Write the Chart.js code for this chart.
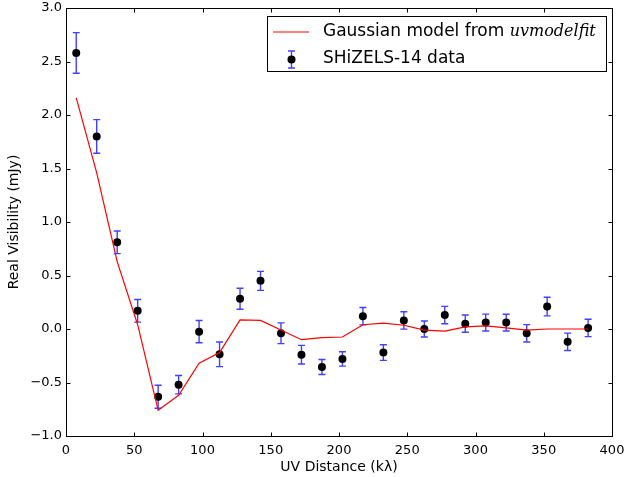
<!DOCTYPE html>
<html>
<head>
<meta charset="utf-8">
<script src="https://cdn.jsdelivr.net/npm/chart.js@4"></script>
<style>
  html, body { margin: 0; padding: 0; background: #fff; }
  #wrap { width: 629px; height: 477px; }
</style>
</head>
<body>
<div id="wrap"><canvas id="c" width="629" height="477"></canvas></div>
<script>
// UV distance of each binned visibility (kλ)
const uvDist = [7.5, 22.5, 37.5, 52.5, 67.5, 82.5, 97.5, 112.5, 127.5, 142.5, 157.5, 172.5, 187.5,
                202.5, 217.5, 232.5, 247.5, 262.5, 277.5, 292.5, 307.5, 322.5, 337.5, 352.5, 367.5, 382.5];
// Measured real part of the visibilities (mJy)
const visReal = [2.58, 1.80, 0.81, 0.17, -0.633, -0.52, -0.025, -0.237, 0.283, 0.45, -0.04, -0.24, -0.355,
                 -0.28, 0.12, -0.22, 0.08, 0.00, 0.13, 0.05, 0.06, 0.06, -0.04, 0.21, -0.12, 0.01];
// 1-sigma uncertainties (mJy)
const visErr = [0.19, 0.157, 0.106, 0.106, 0.107, 0.086, 0.104, 0.115, 0.098, 0.089, 0.097, 0.087, 0.07,
                0.067, 0.081, 0.073, 0.081, 0.075, 0.081, 0.081, 0.079, 0.078, 0.081, 0.087, 0.081, 0.081];
// Gaussian model evaluated at the same UV distances (mJy)
const modelReal = [2.16, 1.46, 0.63, 0.04, -0.76, -0.62, -0.32, -0.22, 0.085, 0.08, -0.01, -0.10, -0.08,
                   -0.075, 0.04, 0.055, 0.035, -0.01, -0.02, 0.02, 0.03, 0.01, -0.01, 0.0, 0.0, 0.0];
// Axis ticks
const xTicks = [0, 50, 100, 150, 200, 250, 300, 350, 400];
const yTicks = [-1.0, -0.5, 0.0, 0.5, 1.0, 1.5, 2.0, 2.5, 3.0];

const FONT = 'DejaVu Sans';
const MINUS = '\u2212';

function fmtY(v) {
  const s = Math.abs(v).toFixed(1);
  return (v < 0 ? MINUS : '') + s;
}

// Blue error bars with caps, drawn beneath the markers
const errorBars = {
  id: 'errorBars',
  beforeDatasetsDraw(chart) {
    const { ctx, scales: { x, y } } = chart;
    ctx.save();
    ctx.strokeStyle = 'rgba(0,0,255,0.75)';
    ctx.lineWidth = 1.4;
    for (let i = 0; i < uvDist.length; i++) {
      const px = x.getPixelForValue(uvDist[i]);
      const y0 = y.getPixelForValue(visReal[i] - visErr[i]);
      const y1 = y.getPixelForValue(visReal[i] + visErr[i]);
      ctx.beginPath();
      ctx.moveTo(px, y0); ctx.lineTo(px, y1);
      ctx.moveTo(px - 3.5, y0); ctx.lineTo(px + 3.5, y0);
      ctx.moveTo(px - 3.5, y1); ctx.lineTo(px + 3.5, y1);
      ctx.stroke();
    }
    ctx.restore();
  }
};

// Box frame with inward tick marks on all four sides
const frame = {
  id: 'frame',
  afterDraw(chart) {
    const { ctx, chartArea: a, scales: { x, y } } = chart;
    ctx.save();
    ctx.strokeStyle = '#000';
    ctx.lineWidth = 1;
    const L = Math.round(a.left) + 0.5, R = Math.round(a.right) + 0.5;
    const T = Math.round(a.top) + 0.5, B = Math.round(a.bottom) + 0.5;
    ctx.strokeRect(L, T, R - L, B - T);
    const tl = 4;
    ctx.beginPath();
    xTicks.forEach(v => {
      const p = Math.round(x.getPixelForValue(v)) + 0.5;
      ctx.moveTo(p, B); ctx.lineTo(p, B - tl);
      ctx.moveTo(p, T); ctx.lineTo(p, T + tl);
    });
    yTicks.forEach(v => {
      const p = Math.round(y.getPixelForValue(v)) + 0.5;
      ctx.moveTo(L, p); ctx.lineTo(L + tl, p);
      ctx.moveTo(R, p); ctx.lineTo(R - tl, p);
    });
    ctx.stroke();
    ctx.restore();
  }
};

// Legend box in the upper right corner
const legendBox = {
  id: 'legendBox',
  afterDraw(chart) {
    const { ctx } = chart;
    const bx = 267.5, by = 16.5, bw = 339, bh = 55;
    ctx.save();
    ctx.fillStyle = '#fff';
    ctx.fillRect(bx, by, bw, bh);
    ctx.strokeStyle = '#000';
    ctx.lineWidth = 1;
    ctx.strokeRect(bx, by, bw, bh);

    // model line sample
    ctx.strokeStyle = '#ff0000';
    ctx.lineWidth = 1.2;
    ctx.beginPath();
    ctx.moveTo(273, 32); ctx.lineTo(309, 32);
    ctx.stroke();

    // data marker sample
    ctx.strokeStyle = 'rgba(0,0,255,0.75)';
    ctx.lineWidth = 1.4;
    ctx.beginPath();
    ctx.moveTo(291.5, 51); ctx.lineTo(291.5, 68);
    ctx.moveTo(288, 51); ctx.lineTo(295, 51);
    ctx.moveTo(288, 68); ctx.lineTo(295, 68);
    ctx.stroke();
    ctx.fillStyle = '#000';
    ctx.beginPath();
    ctx.arc(291.5, 59.5, 4, 0, Math.PI * 2);
    ctx.fill();

    ctx.fillStyle = '#000';
    ctx.textBaseline = 'middle';
    ctx.textAlign = 'left';
    ctx.font = '17px "' + FONT + '"';
    const t1 = 'Gaussian model from ';
    ctx.fillText(t1, 323, 32);
    const w1 = ctx.measureText(t1).width;
    ctx.font = 'italic 16px "DejaVu Serif"';
    ctx.fillText('uvmodelfit', 323 + w1, 32);
    ctx.font = '17px "' + FONT + '"';
    ctx.fillText('SHiZELS-14 data', 323, 59);
    ctx.restore();
  }
};

new Chart(document.getElementById('c'), {
  type: 'scatter',
  data: {
    datasets: [
      {
        type: 'line',
        label: 'Gaussian model from uvmodelfit',
        data: uvDist.map((u, i) => ({ x: u, y: modelReal[i] })),
        borderColor: '#ff0000',
        borderWidth: 1.2,
        pointRadius: 0,
        fill: false,
        tension: 0
      },
      {
        label: 'SHiZELS-14 data',
        data: uvDist.map((u, i) => ({ x: u, y: visReal[i] })),
        backgroundColor: '#000',
        borderColor: '#000',
        pointRadius: 4,
        borderWidth: 0
      }
    ]
  },
  options: {
    responsive: false,
    animation: false,
    layout: { padding: { left: 0, right: 17, top: 8, bottom: 0 } },
    plugins: { legend: { display: false }, tooltip: { enabled: false } },
    scales: {
      x: {
        type: 'linear',
        min: 0, max: 400,
        afterBuildTicks(s) { s.ticks = xTicks.map(v => ({ value: v })); },
        afterFit(s) { s.height = 41; },
        grid: { display: false, drawTicks: true, tickLength: 7 },
        border: { display: false },
        ticks: { color: '#000', padding: 0, font: { family: FONT, size: 13 }, maxRotation: 0 },
        title: { display: true, text: 'UV Distance (k\u03bb)', color: '#000',
                 font: { family: FONT, size: 14 }, padding: { top: 0, bottom: 1 } }
      },
      y: {
        type: 'linear',
        min: -1, max: 3,
        afterBuildTicks(s) { s.ticks = yTicks.map(v => ({ value: v })); },
        afterFit(s) { s.width = 66; },
        grid: { display: false, drawTicks: true, tickLength: 4 },
        border: { display: false },
        ticks: { color: '#000', padding: 0, font: { family: FONT, size: 13 }, callback: v => fmtY(v) },
        title: { display: true, text: 'Real Visibility (mJy)', color: '#000',
                 font: { family: FONT, size: 14 }, padding: { top: 6, bottom: 0 } }
      }
    }
  },
  plugins: [errorBars, frame, legendBox]
});
</script>
</body>
</html>
